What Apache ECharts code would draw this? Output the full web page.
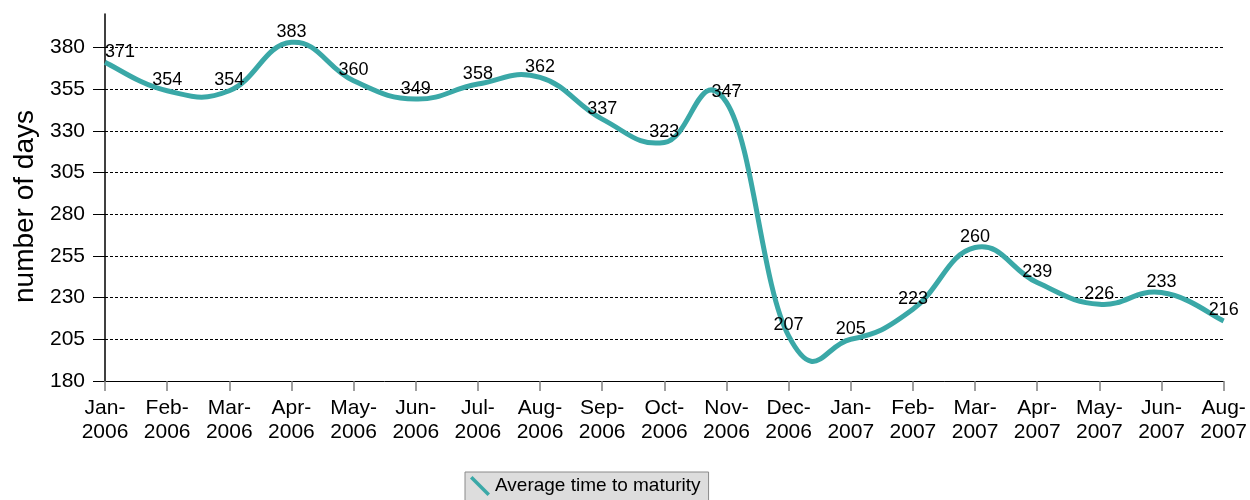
<!DOCTYPE html>
<html>
<head>
<meta charset="utf-8">
<script src="https://cdn.jsdelivr.net/npm/echarts@6/dist/echarts.min.js"></script>
<style>
  html, body { margin: 0; padding: 0; background: #ffffff; }
  #chart { width: 1250px; height: 500px; }
</style>
</head>
<body>
<div id="chart"></div>
<script>
// Monthly categories (label shown as "Mon-\nYear")
const months = [
  'Jan-2006', 'Feb-2006', 'Mar-2006', 'Apr-2006', 'May-2006', 'Jun-2006',
  'Jul-2006', 'Aug-2006', 'Sep-2006', 'Oct-2006', 'Nov-2006', 'Dec-2006',
  'Jan-2007', 'Feb-2007', 'Mar-2007', 'Apr-2007', 'May-2007', 'Jun-2007',
  'Aug-2007'
];

// Average time to maturity, in days
const avgMaturity = [
  371, 354, 354, 383, 360, 349, 358, 362, 337, 323, 347, 207,
  205, 223, 260, 239, 226, 233, 216
];

const SERIES_NAME = 'Average time to maturity';
const FONT = '"Liberation Sans", Arial, sans-serif';
const LINE_COLOR = '#3aa8a7';
const TENSION = 0.22;

// Smooth curve through every point (cubic Bezier with cardinal-spline tangents),
// built from the pixel positions that the axes give for each value.
function smoothPath(pts) {
  let d = 'M' + pts[0][0] + ',' + pts[0][1];
  for (let i = 0; i < pts.length - 1; i++) {
    const p0 = pts[Math.max(i - 1, 0)];
    const p1 = pts[i];
    const p2 = pts[i + 1];
    const p3 = pts[Math.min(i + 2, pts.length - 1)];
    const c1x = p1[0] + (p2[0] - p0[0]) * TENSION;
    const c1y = p1[1] + (p2[1] - p0[1]) * TENSION;
    const c2x = p2[0] - (p3[0] - p1[0]) * TENSION;
    const c2y = p2[1] - (p3[1] - p1[1]) * TENSION;
    d += ' C' + c1x + ',' + c1y + ' ' + c2x + ',' + c2y + ' ' + p2[0] + ',' + p2[1];
  }
  return d;
}

const chart = echarts.init(document.getElementById('chart'), null, { renderer: 'canvas' });

chart.setOption({
  backgroundColor: '#ffffff',
  animation: false,
  textStyle: { fontFamily: FONT },
  grid: { left: 105, right: 25, top: 14, bottom: 119, containLabel: false },
  legend: {
    left: 465,
    top: 472,
    padding: [4, 8, 8, 5],
    backgroundColor: '#dddddd',
    borderColor: '#8a8a8a',
    borderWidth: 1,
    borderRadius: 0,
    itemWidth: 20,
    itemHeight: 20,
    icon: 'path://M0,2.5 L2.5,0 L20,17.5 L17.5,20 Z',
    textStyle: { fontFamily: FONT, fontSize: 19, color: '#000000' },
    data: [{ name: SERIES_NAME, itemStyle: { color: LINE_COLOR } }]
  },
  xAxis: {
    type: 'category',
    data: months,
    boundaryGap: false,
    axisLine: { show: true, lineStyle: { color: '#000000', width: 1 } },
    axisTick: {
      show: true,
      alignWithLabel: true,
      length: 10,
      lineStyle: { color: '#808080', width: 1.5 }
    },
    axisLabel: {
      interval: 0,
      margin: 15,
      fontFamily: FONT,
      fontSize: 21,
      lineHeight: 24,
      color: '#000000',
      formatter: v => v.replace('-', '-\n')
    },
    splitLine: { show: false }
  },
  yAxis: {
    type: 'value',
    min: 180,
    max: 400,
    interval: 25,
    name: 'number of days',
    nameLocation: 'middle',
    nameGap: 66,
    nameRotate: 90,
    nameTextStyle: { fontFamily: FONT, fontSize: 28, color: '#000000', padding: [0, 18, 0, 0] },
    axisLine: { show: true, lineStyle: { color: '#000000', width: 1.5 } },
    axisTick: {
      show: true,
      length: 12,
      lineStyle: { color: '#000000', width: 1 }
    },
    axisLabel: {
      margin: 20,
      fontFamily: FONT,
      fontSize: 21,
      color: '#000000',
      showMaxLabel: false
    },
    splitLine: {
      show: true,
      showMinLine: false,
      showMaxLine: false,
      lineStyle: { color: '#000000', width: 1, type: [3, 2] }
    }
  },
  series: [
    {
      // the smoothed curve
      name: SERIES_NAME,
      type: 'custom',
      coordinateSystem: 'cartesian2d',
      data: avgMaturity.map((v, i) => [i, v]),
      encode: { x: 0, y: 1 },
      itemStyle: { color: LINE_COLOR },
      silent: true,
      z: 2,
      renderItem: function (params, api) {
        if (params.dataIndex !== 0) return null;
        const pts = avgMaturity.map((v, i) => api.coord([i, v]));
        return {
          type: 'path',
          shape: { pathData: smoothPath(pts) },
          style: {
            stroke: LINE_COLOR,
            lineWidth: 5,
            fill: null,
            lineJoin: 'round',
            lineCap: 'butt'
          }
        };
      }
    },
    {
      // value labels at each month
      name: SERIES_NAME,
      type: 'line',
      data: avgMaturity.map((v, i) => i === 0
        ? { value: v, label: { align: 'left', offset: [3, 0] } }
        : v),
      symbol: 'circle',
      symbolSize: 1,
      showSymbol: true,
      silent: true,
      lineStyle: { width: 0, opacity: 0 },
      itemStyle: { color: 'rgba(0,0,0,0)' },
      label: {
        show: true,
        position: 'top',
        distance: 1,
        fontFamily: FONT,
        fontSize: 18,
        color: '#000000'
      },
      labelLayout: { hideOverlap: false },
      z: 3
    }
  ]
});
</script>
</body>
</html>
